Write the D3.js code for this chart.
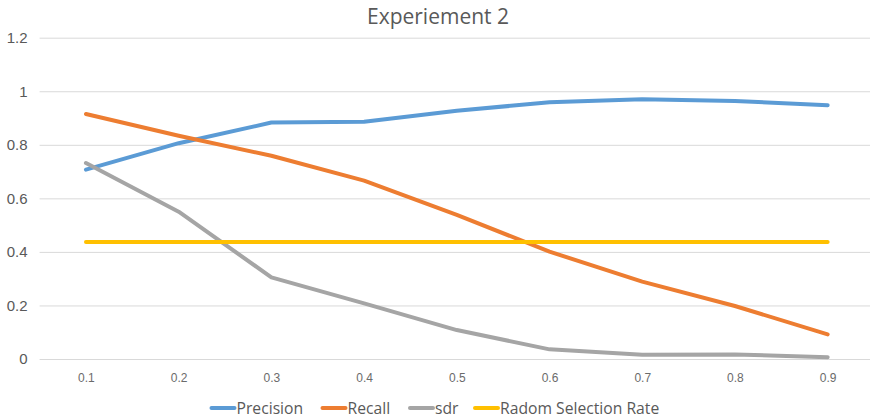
<!DOCTYPE html>
<html>
<head>
<meta charset="utf-8">
<script src="https://cdn.jsdelivr.net/npm/d3@7"></script>
<style>
  html, body { margin: 0; padding: 0; background: #fff; }
  svg { display: block; font-family: "Open Sans", "Noto Sans", sans-serif; }
</style>
</head>
<body>
<svg id="chart" width="870" height="419"></svg>
<script>
// Threshold categories on the x axis
const categories = ["0.1", "0.2", "0.3", "0.4", "0.5", "0.6", "0.7", "0.8", "0.9"];

// Series values per threshold
const precision = [0.707, 0.806, 0.883, 0.886, 0.927, 0.959, 0.970, 0.964, 0.948];
const recall    = [0.915, 0.834, 0.759, 0.666, 0.538, 0.401, 0.289, 0.198, 0.092];
const sdr       = [0.732, 0.550, 0.305, 0.208, 0.108, 0.036, 0.016, 0.017, 0.007];
const radom     = [0.437, 0.437, 0.437, 0.437, 0.437, 0.437, 0.437, 0.437, 0.437];

const seriesNames = ["Precision", "Recall", "sdr", "Radom Selection Rate"];
const seriesColors = ["#5B9BD5", "#ED7D31", "#A5A5A5", "#FFC000"];

const yTicks = [0, 0.2, 0.4, 0.6, 0.8, 1, 1.2];
const yTickLabels = ["0", "0.2", "0.4", "0.6", "0.8", "1", "1.2"];

const titleText = "Experiement 2";

const series = [precision, recall, sdr, radom].map((values, i) => ({
  name: seriesNames[i],
  color: seriesColors[i],
  values: values
}));

const svg = d3.select("#chart");

const x = d3.scalePoint()
  .domain(categories)
  .range([39.6, 874])
  .padding(0.5);

const y = d3.scaleLinear()
  .domain([0, 1.2])
  .range([359, 37.7]);

// Horizontal gridlines and y tick labels
const yAxis = d3.axisLeft(y)
  .tickValues(yTicks)
  .tickSize(-(874 - 39.6))
  .tickPadding(12)
  .tickFormat((d, i) => yTickLabels[i]);

const gy = svg.append("g")
  .attr("transform", "translate(39.6,0)")
  .call(yAxis);
gy.select(".domain").remove();
gy.selectAll(".tick line").attr("stroke", "#D9D9D9").attr("stroke-width", 1);
gy.selectAll(".tick text")
  .attr("fill", "#595959")
  .attr("font-size", "15px");

// x tick labels
const xAxis = d3.axisBottom(x).tickSize(0).tickPadding(14);
const gx = svg.append("g")
  .attr("transform", "translate(0,359)")
  .call(xAxis);
gx.select(".domain").remove();
gx.selectAll(".tick text")
  .attr("fill", "#6b6b6b")
  .attr("font-size", "12px");

// Series lines
const line = d3.line()
  .x((d, i) => x(categories[i]))
  .y(d => y(d));

svg.append("g")
  .selectAll("path")
  .data(series)
  .join("path")
  .attr("d", d => line(d.values))
  .attr("fill", "none")
  .attr("stroke", d => d.color)
  .attr("stroke-width", 4)
  .attr("stroke-linejoin", "round")
  .attr("stroke-linecap", "round");

// Title
svg.append("text")
  .attr("x", 438)
  .attr("y", 24)
  .attr("text-anchor", "middle")
  .attr("fill", "#595959")
  .attr("font-size", "21px")
  .text(titleText);

// Legend
const legendX = [211.5, 322.5, 410, 475];
const legend = svg.append("g");
series.forEach((s, i) => {
  const g = legend.append("g").attr("transform", `translate(${legendX[i]},408)`);
  g.append("line")
    .attr("x1", 0).attr("x2", 23)
    .attr("y1", 0).attr("y2", 0)
    .attr("stroke", s.color)
    .attr("stroke-width", 4)
    .attr("stroke-linecap", "round");
  g.append("text")
    .attr("x", 25)
    .attr("y", 0)
    .attr("dy", "0.35em")
    .attr("fill", "#595959")
    .attr("font-size", "15.7px")
    .text(s.name);
});
</script>
</body>
</html>
